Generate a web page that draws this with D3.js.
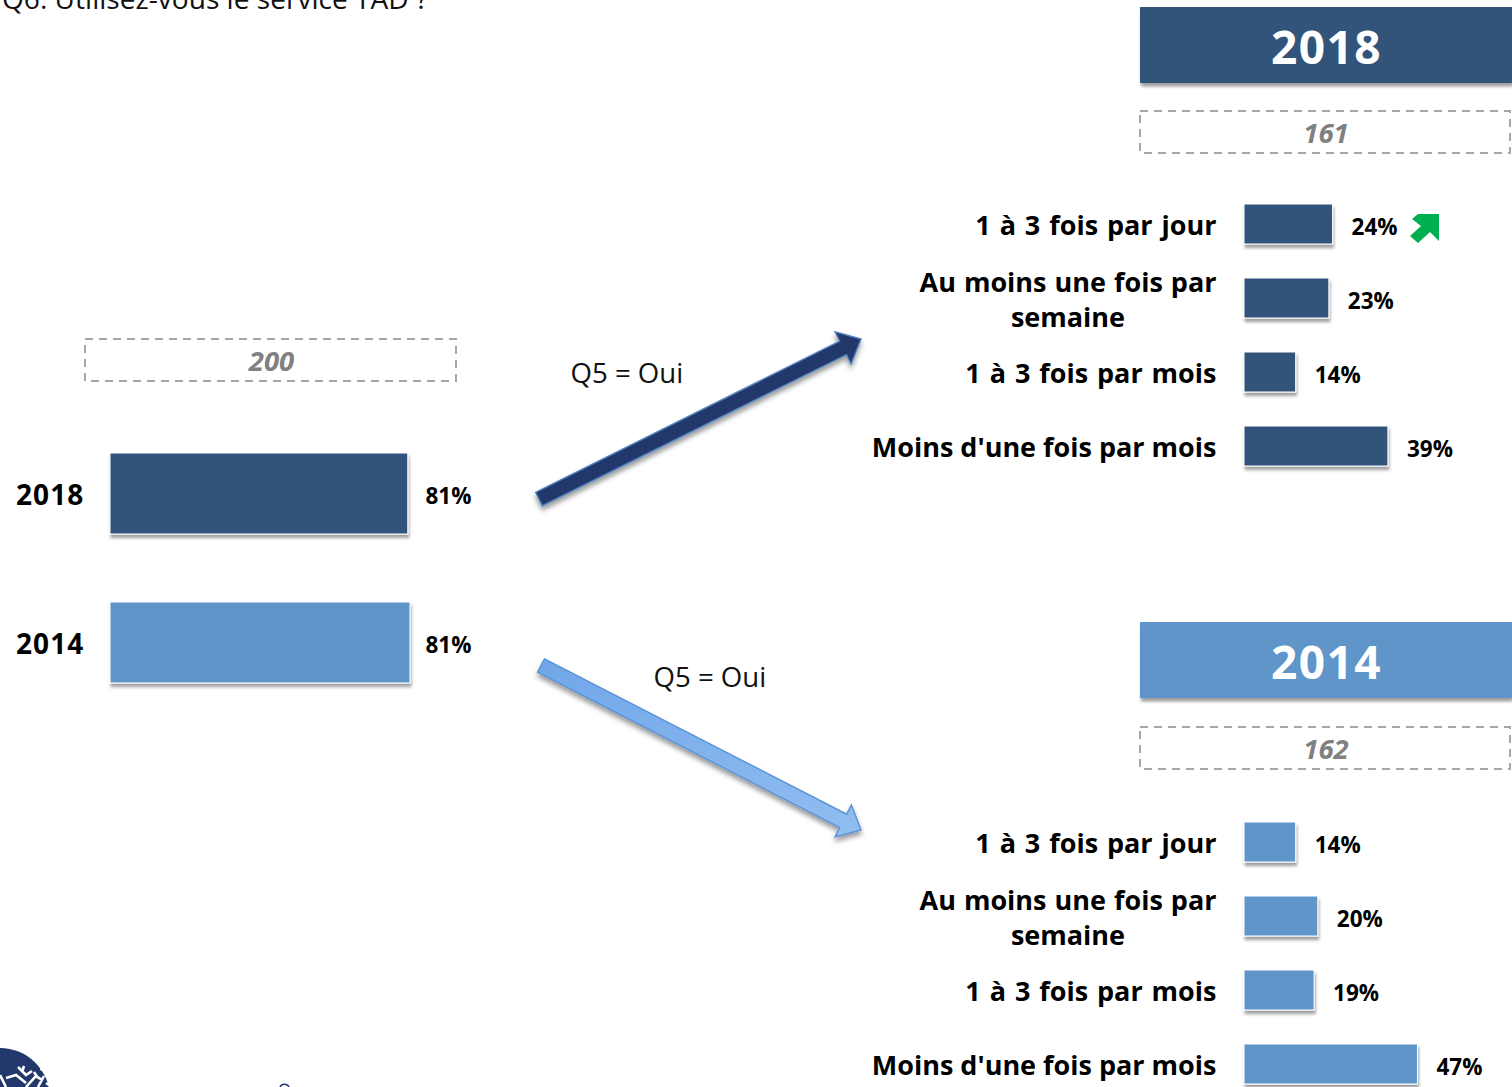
<!DOCTYPE html>
<html><head><meta charset="utf-8">
<script src="https://cdn.jsdelivr.net/npm/d3@7"></script>
<style>
html,body{margin:0;padding:0;background:#fff;overflow:hidden}
svg{display:block}
text{font-family:"Open Sans","Noto Sans",sans-serif}
</style></head><body>
<script>
const frequencies = ["1 à 3 fois par jour","Au moins une fois par semaine","1 à 3 fois par mois","Moins d'une fois par mois"];
const values2018 = [24,23,14,39];
const values2014 = [14,20,19,47];
const years = ["2018","2014"];
const overallValues = [80.7,81.3];
const overallBase = 200;
const base2018 = 161;
const base2014 = 162;
const arrowLabel = "Q5 = Oui";
const questionText = "Q6. Utilisez-vous le service TAD ?";
const DARK="#30527a", LIGHT="#6195c9";

const svg=d3.select("body").append("svg").attr("width",1512).attr("height",1087);
const defs=svg.append("defs");
const f=defs.append("filter").attr("id","sh").attr("x","-10%").attr("y","-20%").attr("width","125%").attr("height","150%");
f.append("feDropShadow").attr("dx",1).attr("dy",3.5).attr("stdDeviation",1.6).attr("flood-color","#000").attr("flood-opacity",.38);
const f2=defs.append("filter").attr("id","ash").attr("x","-10%").attr("y","-10%").attr("width","120%").attr("height","120%");
f2.append("feDropShadow").attr("dx",0).attr("dy",4).attr("stdDeviation",2.5).attr("flood-color","#000").attr("flood-opacity",.4);
const g=defs.append("linearGradient").attr("id","lg").attr("x1",0).attr("y1",0).attr("x2",0).attr("y2",1);
g.append("stop").attr("offset",0).attr("stop-color","#70a6e8");
g.append("stop").attr("offset",1).attr("stop-color","#92bef1");

const x=d3.scaleLinear().domain([0,100]).range([0,369]);

function dashed(x0,y0,w,h,val){
  svg.append("rect").attr("x",x0).attr("y",y0).attr("width",w).attr("height",h)
    .attr("fill","none").attr("stroke","#a6a6a6").attr("stroke-width",2).attr("stroke-dasharray","8 6");
  svg.append("text").attr("x",x0+w/2+1).attr("y",y0+h/2+10.5).attr("text-anchor","middle")
    .attr("font-size",27.5).attr("font-weight",700).attr("font-style","italic").attr("fill","#808080").text(val);
}

// question
svg.append("text").attr("x",2).attr("y",9).attr("font-size",28.1).attr("fill","#111").text(questionText);

// left panel
dashed(85,339,371,42,overallBase);
const yL=d3.scaleBand().domain(years).range([453,683]).paddingInner(68/149);
const left=svg.append("g");
left.selectAll("rect").data(years).join("rect")
  .attr("x",110).attr("y",d=>yL(d)).attr("width",(d,i)=>x(overallValues[i])).attr("height",yL.bandwidth())
  .attr("fill",(d,i)=>i?LIGHT:DARK).attr("stroke","#fff").attr("stroke-width",1).attr("filter","url(#sh)");
left.selectAll("text.y").data(years).join("text").attr("class","y")
  .attr("x",16).attr("y",d=>yL(d)+yL.bandwidth()/2+11.5).attr("font-size",28).attr("font-weight",700).attr("letter-spacing",1.1).attr("fill","#000").text(d=>d);
left.selectAll("text.v").data(overallValues).join("text").attr("class","v")
  .attr("x",425.5).attr("y",(d,i)=>yL(years[i])+yL.bandwidth()/2+10).attr("font-size",22.5).attr("font-weight",700).attr("fill","#000")
  .text(d=>Math.round(d)+"%");

// right panels
const labelStyle=s=>s.attr("font-size",27).attr("font-weight",700).attr("fill","#000");
function panel(year,vals,base,color,top,boxTop,offset){
  svg.append("rect").attr("x",1140).attr("y",top).attr("width",372).attr("height",76).attr("fill",color).attr("filter","url(#sh)");
  svg.append("text").attr("x",1326.5).attr("y",top+56.5).attr("text-anchor","middle").attr("font-size",46).attr("font-weight",700).attr("letter-spacing",1.5).attr("fill","#fff").text(year);
  dashed(1140,boxTop,370,42,base);
  const y=d3.scaleBand().domain(frequencies).range([offset,offset+262]).paddingInner(34/74);
  const p=svg.append("g");
  p.selectAll("rect").data(frequencies).join("rect")
    .attr("x",1244).attr("y",d=>y(d)).attr("width",(d,i)=>x(vals[i])).attr("height",y.bandwidth())
    .attr("fill",color).attr("stroke","#fff").attr("stroke-width",1).attr("filter","url(#sh)");
  p.selectAll("text.v").data(vals).join("text").attr("class","v")
    .attr("x",d=>1244+x(d)+19).attr("y",(d,i)=>y(frequencies[i])+y.bandwidth()/2+11)
    .attr("font-size",22.5).attr("font-weight",700).attr("fill","#000").text(d=>d+"%");
  frequencies.forEach((c,i)=>{
    const cy=y(c)+y.bandwidth()/2;
    if(c.length>25){
      const t=p.append("text").attr("text-anchor","middle").call(labelStyle).attr("word-spacing",1);
      t.append("tspan").attr("x",1068).attr("y",cy-6.5).text("Au moins une fois par");
      t.append("tspan").attr("x",1068).attr("y",cy+28.5).text("semaine");
    } else {
      p.append("text").attr("x",1216.5).attr("y",cy+11).attr("text-anchor","end").call(labelStyle)
        .attr("word-spacing",c.startsWith("1")?1.9:0).text(c);
    }
  });
}
panel(years[0],values2018,base2018,DARK,7,111,204);
panel(years[1],values2014,base2014,LIGHT,622,727,822);

// arrows
function arrow(x0,y0,x1,y1,sw,hw,hl,fill,stroke){
  const a=Math.atan2(y1-y0,x1-x0), ux=Math.cos(a), uy=Math.sin(a), nx=-uy, ny=ux, L=Math.hypot(x1-x0,y1-y0);
  const P=(s,t)=>[x0+ux*s+nx*t,y0+uy*s+ny*t];
  const pts=[P(0,-sw/2),P(L-hl,-sw/2),P(L-hl,-hw/2),P(L,0),P(L-hl,hw/2),P(L-hl,sw/2),P(0,sw/2)];
  svg.append("path").attr("d",d3.line()(pts)+"Z").attr("fill",fill).attr("stroke",stroke).attr("stroke-width",1.4).attr("filter","url(#ash)");
}
arrow(539,499,861,339,15,36,20,"#22376b","#4f81bd");
arrow(541,665.5,861,830,15,36,20,"url(#lg)","#5b92d5");
svg.append("text").attr("x",570.5).attr("y",383).attr("font-size",27.6).attr("fill","#111").text(arrowLabel);
svg.append("text").attr("x",653.5).attr("y",687).attr("font-size",27.6).attr("fill","#111").text(arrowLabel);

// green trend arrow
svg.append("path").attr("d","M1418,214L1439,214L1439,241L1430,232L1418,243L1410,236L1421,226L1412,219Z").attr("fill","#00b050");

// logo fragment
const logo=svg.append("g");
logo.append("circle").attr("cx",0).attr("cy",1098).attr("r",50).attr("fill","#22376b");
logo.append("path").attr("d","M49,1078L44,1072L40,1070L41,1066L50,1066L50,1078Z").attr("fill","#fff");
logo.append("path").attr("d","M0,1075L6,1087M6,1078L16,1075L26,1083M18,1067L26,1075L32,1071M24,1066L22,1072M26,1087L36,1076L42,1080M34,1072L38,1078M44,1076L38,1087M46,1083L52,1087")
  .attr("stroke","#fff").attr("stroke-width",2.6).attr("fill","none");
svg.append("path").attr("d","M280,1087a5,5 0 0 1 9,0").attr("fill","none").attr("stroke","#22376b").attr("stroke-width",1.5);
</script>
</body></html>
